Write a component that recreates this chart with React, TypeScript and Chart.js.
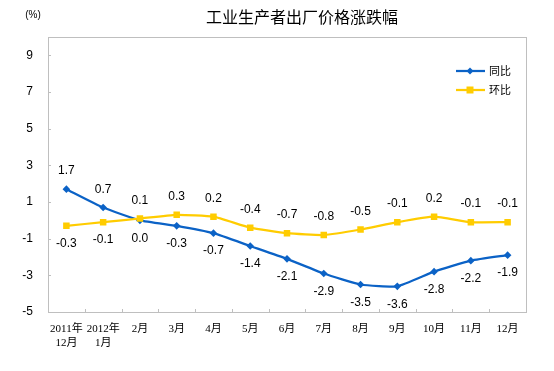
import React, { useEffect, useRef } from 'react';
import { Chart, registerables } from 'chart.js';
Chart.register(...registerables);

const categories: (string | string[])[] = [
  ['2011年', '12月'], ['2012年', '1月'], '2月', '3月', '4月', '5月', '6月',
  '7月', '8月', '9月', '10月', '11月', '12月',
];
const yoyName = '同比';
const momName = '环比';
const yoy = [1.7, 0.7, 0.0, -0.3, -0.7, -1.4, -2.1, -2.9, -3.5, -3.6, -2.8, -2.2, -1.9];
const mom = [-0.3, -0.1, 0.1, 0.3, 0.2, -0.4, -0.7, -0.8, -0.5, -0.1, 0.2, -0.1, -0.1];
const yoyLabelAbove = [true, true, false, false, false, false, false, false, false, false, false, false, false];
const momLabelAbove = [false, false, true, true, true, true, true, true, true, true, true, true, true];
const yTicks = [-5, -3, -1, 1, 3, 5, 7, 9];
const titleText = '工业生产者出厂价格涨跌幅';
const unitText = '(%)';

const BLUE = '#0b62c6';
const YELLOW = '#ffcc00';
const AXIS = '#bfbfbf';
const CJK = '"Noto Sans CJK SC", "Liberation Sans", sans-serif';
const SANS = '"Liberation Sans", Arial, sans-serif';

const decorPlugin = {
  id: 'decor',
  afterDatasetsDraw(chart: any) {
    const { ctx, chartArea: a, scales } = chart;
    const xs = scales.x;
    const ys = scales.y;
    ctx.save();
    // frame
    ctx.strokeStyle = AXIS;
    ctx.lineWidth = 1;
    ctx.strokeRect(Math.round(a.left) + 0.5, Math.round(a.top) + 0.5, Math.round(a.right - a.left), Math.round(a.bottom - a.top));
    // y ticks (inward)
    yTicks.forEach((v) => {
      const y = Math.round(ys.getPixelForValue(v)) + 0.5;
      ctx.beginPath();
      ctx.moveTo(a.left, y);
      ctx.lineTo(a.left + 3, y);
      ctx.stroke();
    });
    // x ticks between categories
    for (let i = 1; i < categories.length; i++) {
      const x = Math.round((xs.getPixelForValue(i - 1) + xs.getPixelForValue(i)) / 2) + 0.5;
      ctx.beginPath();
      ctx.moveTo(x, a.bottom);
      ctx.lineTo(x, a.bottom - 3);
      ctx.stroke();
    }
    // data labels
    ctx.fillStyle = '#000';
    ctx.font = `12px ${SANS}`;
    ctx.textAlign = 'center';
    ctx.textBaseline = 'middle';
    const drawLabels = (dsIndex: number, values: number[], above: boolean[]) => {
      const meta = chart.getDatasetMeta(dsIndex);
      meta.data.forEach((pt: any, i: number) => {
        const dy = above[i] ? -18 : 18;
        ctx.fillText(values[i].toFixed(1), pt.x, pt.y + dy);
      });
    };
    drawLabels(0, yoy, yoyLabelAbove);
    drawLabels(1, mom, momLabelAbove);
    // legend
    const lx0 = 456, lx1 = 485, lxm = 470;
    const items = [
      { name: yoyName, color: BLUE, y: 71, diamond: true },
      { name: momName, color: YELLOW, y: 90, diamond: false },
    ];
    items.forEach((it) => {
      ctx.strokeStyle = it.color;
      ctx.lineWidth = 2.25;
      ctx.beginPath();
      ctx.moveTo(lx0, it.y);
      ctx.lineTo(lx1, it.y);
      ctx.stroke();
      ctx.fillStyle = it.color;
      ctx.beginPath();
      if (it.diamond) {
        ctx.moveTo(lxm - 3.5, it.y);
        ctx.lineTo(lxm, it.y - 3.5);
        ctx.lineTo(lxm + 3.5, it.y);
        ctx.lineTo(lxm, it.y + 3.5);
        ctx.closePath();
      } else {
        ctx.rect(lxm - 3.5, it.y - 3.5, 7, 7);
      }
      ctx.fill();
      ctx.fillStyle = '#000';
      ctx.font = `11px ${CJK}`;
      ctx.textAlign = 'left';
      ctx.fillText(it.name, 489, it.y);
    });
    // title and unit
    ctx.fillStyle = '#000';
    ctx.textAlign = 'center';
    ctx.font = `16px ${CJK}`;
    ctx.fillText(titleText, 302, 17);
    ctx.font = `10px ${SANS}`;
    ctx.fillText(unitText, 33, 15);
    ctx.restore();
  },
};

export default function App() {
  const ref = useRef<HTMLCanvasElement | null>(null);
  useEffect(() => {
    document.body.style.margin = '0';
    if (!ref.current) return;
    const chart = new Chart(ref.current, {
      type: 'line',
      data: {
        labels: categories as any,
        datasets: [
          {
            label: yoyName,
            data: yoy,
            borderColor: BLUE,
            backgroundColor: BLUE,
            borderWidth: 2.25,
            pointStyle: 'rectRot',
            pointRadius: 3.8,
            pointBorderWidth: 0,
            tension: 0.15,
            order: 1,
          },
          {
            label: momName,
            data: mom,
            borderColor: YELLOW,
            backgroundColor: YELLOW,
            borderWidth: 2.25,
            pointStyle: 'rect',
            pointRadius: 4.6,
            pointBorderWidth: 0,
            tension: 0.15,
            order: 0,
          },
        ],
      },
      options: {
        responsive: false,
        animation: false,
        layout: { padding: { left: 0, top: 37, right: 28, bottom: 0 } },
        plugins: {
          legend: { display: false },
          title: { display: false },
          tooltip: { enabled: false },
        },
        scales: {
          x: {
            offset: true,
            grid: { display: false, drawTicks: false },
            border: { display: false },
            ticks: {
              color: '#000',
              font: { size: 11, family: '"Liberation Serif", "Noto Sans CJK SC", serif' },
              padding: 11,
              maxRotation: 0,
              autoSkip: false,
            },
            afterFit: (s: any) => { s.height = 59; },
          },
          y: {
            min: -5,
            max: 10,
            grid: { display: false, drawTicks: false },
            border: { display: false },
            afterBuildTicks: (s: any) => { s.ticks = yTicks.map((v) => ({ value: v })); },
            ticks: {
              color: '#000',
              font: { size: 12, family: SANS },
              padding: 15,
            },
            afterFit: (s: any) => { s.width = 48; },
          },
        },
      },
      plugins: [decorPlugin],
    });
    return () => chart.destroy();
  }, []);
  return <canvas ref={ref} width={554} height={371} style={{ display: 'block' }} />;
}
